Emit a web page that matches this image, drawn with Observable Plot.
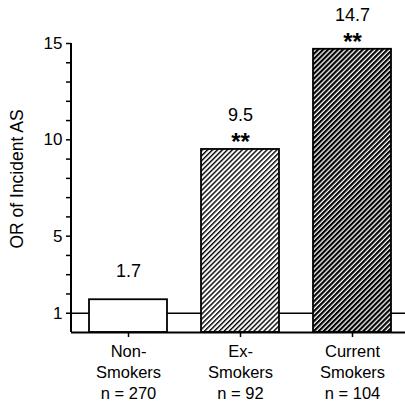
<!DOCTYPE html>
<html><head><meta charset="utf-8">
<script src="https://cdn.jsdelivr.net/npm/d3@7"></script>
<script src="https://cdn.jsdelivr.net/npm/@observablehq/plot@0.6"></script>
<style>html,body{margin:0;padding:0;background:#fff} svg{display:block}</style>
</head><body><div id="chart"></div>
<script>
const categories = ["Non-Smokers", "Ex-Smokers", "Current Smokers"];
const categoryLines = ["Non-\nSmokers", "Ex-\nSmokers", "Current\nSmokers"];
const sampleSizes = [270, 92, 104];
const oddsRatios = [1.7, 9.5, 14.7];
const significance = ["", "**", "**"];
const yTickLabels = [1, 5, 10, 15];
const yMinorTicks = d3.range(1, 16);
const referenceLine = [1];
const yTitle = "OR of Incident AS";

const fills = ["#fff", "url(#hatchLight)", "url(#hatchDark)"];
const data = categories.map((c, i) => ({
  category: c,
  label: categoryLines[i] + "\nn = " + sampleSizes[i],
  or: oddsRatios[i],
  sig: significance[i],
  fill: fills[i]
}));

const font = "'Liberation Sans', Arial, Helvetica, sans-serif";

const plot = Plot.plot({
  width: 405, height: 403,
  marginLeft: 71, marginRight: 0, marginTop: 43, marginBottom: 71,
  style: {fontFamily: font, fontSize: "16px", color: "#000", background: "#fff"},
  x: {domain: categories, range: [71, 409], paddingInner: 0.307, paddingOuter: 0.156, axis: null},
  y: {domain: [0, 15], axis: null},
  color: {type: "identity"},
  marks: [
    Plot.ruleY(referenceLine, {stroke: "#000", strokeWidth: 1.4}),
    Plot.barY(data, {x: "category", y: "or", fill: "fill", stroke: "#000", strokeWidth: 1.8}),
    Plot.ruleY([0], {stroke: "#000", strokeWidth: 2}),
    (index, scales, values, dims) => {
      return d3.create("svg:line")
        .attr("x1", dims.marginLeft).attr("x2", dims.marginLeft)
        .attr("y1", scales.y(0)).attr("y2", scales.y(15))
        .attr("stroke", "#000").attr("stroke-width", 2).node();
    },
    Plot.axisY({ticks: yMinorTicks, tickSize: 5, tickPadding: 4, strokeWidth: 1.5,
      tickFormat: d => yTickLabels.includes(d) ? String(d) : "", label: null, fontSize: 17}),
    Plot.axisX({tickSize: 5, strokeWidth: 1.5, tickFormat: () => "", label: null}),
    Plot.text(data, {x: "category", y: 0, text: "label", lineAnchor: "top", dy: 10, lineHeight: 1.26, fontSize: 16.5}),
    Plot.text(data.filter(d => d.sig), {x: "category", y: "or", text: "sig", dy: -7, fontWeight: "bold", fontSize: 24}),
    Plot.text(data.filter(d => d.sig), {x: "category", y: "or", text: d => d.or.toFixed(1), dy: -34, fontSize: 18}),
    Plot.text(data.filter(d => !d.sig), {x: "category", y: "or", text: d => d.or.toFixed(1), dy: -29, fontSize: 18}),
    Plot.text([yTitle], {frameAnchor: "left", textAnchor: "middle", rotate: -90, dx: -54, dy: -9, fontSize: 17.5})
  ]
});

const defs = d3.select(plot).insert("defs", ":first-child");
function hatch(id, w, t) {
  const p = defs.append("pattern").attr("id", id)
    .attr("patternUnits", "userSpaceOnUse")
    .attr("width", w).attr("height", w)
    .attr("patternTransform", "rotate(45)");
  p.append("rect").attr("width", w).attr("height", w).attr("fill", "#fff");
  p.append("rect").attr("width", t).attr("height", w).attr("fill", "#000");
}
hatch("hatchLight", 3.5, 1.4);
hatch("hatchDark", 3.5, 2.2);

document.getElementById("chart").appendChild(plot);
</script>
</body></html>
